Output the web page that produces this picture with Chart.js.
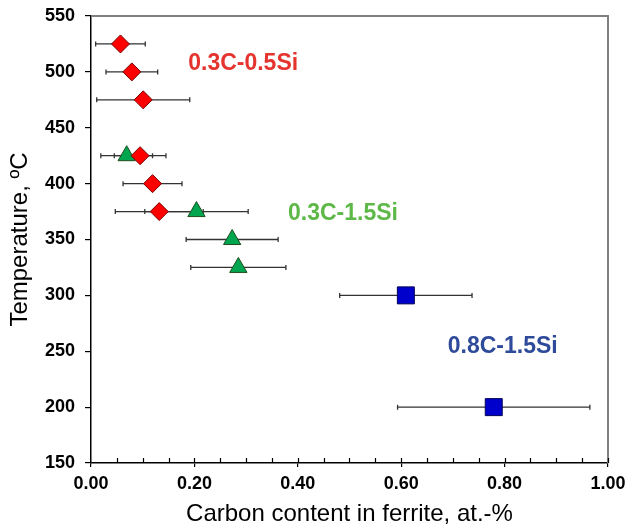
<!DOCTYPE html>
<html>
<head>
<meta charset="utf-8">
<script src="https://cdn.jsdelivr.net/npm/chart.js@4/dist/chart.umd.min.js"></script>
<style>
html,body{margin:0;padding:0;background:#fff;}
#wrap{width:627px;height:529px;position:relative;}
</style>
</head>
<body>
<div id="wrap"><canvas id="c" width="627" height="529"></canvas></div>
<script>
// ---- data ----
const temps05 = [525, 500, 475, 425, 400, 375];
const carbon05 = [0.057, 0.079, 0.101, 0.095, 0.119, 0.132];
const err05 = [0.048, 0.050, 0.090, 0.050, 0.057, 0.085];

const temps15 = [425, 375, 350, 325];
const carbon15 = [0.069, 0.204, 0.273, 0.285];
const err15 = [0.050, 0.100, 0.089, 0.092];

const temps08 = [300, 200];
const carbon08 = [0.609, 0.779];
const err08 = [0.128, 0.186];

const labelTexts = ['0.3C-0.5Si', '0.3C-1.5Si', '0.8C-1.5Si'];
const labelX = [0.188, 0.381, 0.690];
const labelY = [507, 373, 254];
const labelColors = ['#E5332D', '#5DB847', '#2E4A9A'];

const xTitle = 'Carbon content in ferrite, at.-%';
const yTitle = 'Temperature, ºC';

function pts(xs, ys, es) { return xs.map((x, i) => ({x: x, y: ys[i], e: es[i]})); }

const FONT = "'Liberation Sans', Arial, sans-serif";

const errorBars = {
  id: 'errorBars',
  beforeDatasetsDraw(chart) {
    const ctx = chart.ctx, xs = chart.scales.x, ys = chart.scales.y;
    ctx.save();
    ctx.strokeStyle = '#333333';
    ctx.lineWidth = 1.3;
    chart.data.datasets.forEach(ds => {
      ds.data.forEach(p => {
        const x1 = xs.getPixelForValue(p.x - p.e), x2 = xs.getPixelForValue(p.x + p.e);
        const y = ys.getPixelForValue(p.y);
        ctx.beginPath();
        ctx.moveTo(x1, y); ctx.lineTo(x2, y);
        ctx.moveTo(x1, y - 2.5); ctx.lineTo(x1, y + 2.5);
        ctx.moveTo(x2, y - 2.5); ctx.lineTo(x2, y + 2.5);
        ctx.stroke();
      });
    });
    ctx.restore();
  }
};

const frame = {
  id: 'frame',
  afterDraw(chart) {
    const ctx = chart.ctx, a = chart.chartArea, xs = chart.scales.x;
    ctx.save();
    ctx.strokeStyle = '#808080';
    ctx.lineWidth = 2;
    ctx.beginPath();
    ctx.moveTo(a.left, a.top); ctx.lineTo(a.right, a.top); ctx.lineTo(a.right, a.bottom);
    ctx.stroke();
    ctx.strokeStyle = '#000';
    ctx.lineWidth = 1.2;
    ctx.beginPath();
    for (let v = 0.05; v < 1.0001; v += 0.05) {
      const px = Math.round(xs.getPixelForValue(v)) + 0.5;
      ctx.moveTo(px, a.bottom); ctx.lineTo(px, a.bottom - 5);
    }
    ctx.stroke();
    ctx.font = "bold 23px " + FONT;
    ctx.textBaseline = 'middle';
    ctx.textAlign = 'left';
    labelTexts.forEach((t, i) => {
      ctx.fillStyle = labelColors[i];
      ctx.fillText(t, xs.getPixelForValue(labelX[i]), chart.scales.y.getPixelForValue(labelY[i]));
    });
    ctx.restore();
  }
};

new Chart(document.getElementById('c'), {
  type: 'scatter',
  data: {
    datasets: [
      { label: '0.3C-0.5Si', data: pts(carbon05, temps05, err05), pointStyle: 'rectRot', pointRadius: 9, pointHoverRadius: 9,
        backgroundColor: '#FF0000', borderColor: '#7A0000', borderWidth: 1 },
      { label: '0.3C-1.5Si', data: pts(carbon15, temps15, err15), pointStyle: 'triangle', pointRadius: 10, pointHoverRadius: 10,
        backgroundColor: '#00A550', borderColor: '#1F4F1F', borderWidth: 1 },
      { label: '0.8C-1.5Si', data: pts(carbon08, temps08, err08), pointStyle: 'rect', pointRadius: 12, pointHoverRadius: 12,
        backgroundColor: '#0000CC', borderColor: '#000055', borderWidth: 1 }
    ]
  },
  options: {
    responsive: false,
    animation: false,
    events: [],
    layout: { padding: { left: 0, right: 19, top: 16, bottom: 0 } },
    plugins: { legend: { display: false }, tooltip: { enabled: false } },
    scales: {
      x: {
        type: 'linear', min: 0, max: 1,
        afterFit(s) { s.height = 66; s.paddingLeft = 0; s.paddingRight = 0; },
        border: { display: true, color: '#000', width: 1.5 },
        grid: { drawOnChartArea: false, drawTicks: true, tickLength: 4, color: '#000', lineWidth: 1.2 },
        ticks: { stepSize: 0.2, padding: 6, color: '#000', font: { family: FONT, size: 18, weight: 'bold' },
                 callback: v => v.toFixed(2), maxRotation: 0 },
        title: { display: true, text: xTitle, color: '#000', font: { family: FONT, size: 24 }, padding: { top: 0, bottom: 0 } }
      },
      y: {
        type: 'linear', min: 150, max: 550,
        afterFit(s) { s.width = 91; s.paddingTop = 0; s.paddingBottom = 0; },
        border: { display: true, color: '#000', width: 1.5 },
        grid: { drawOnChartArea: false, drawTicks: true, tickLength: 6, color: '#000', lineWidth: 1.2 },
        ticks: { stepSize: 50, padding: 10, color: '#000', font: { family: FONT, size: 18, weight: 'bold' } },
        title: { display: true, text: yTitle, color: '#000', font: { family: FONT, size: 24 }, padding: { top: 6, bottom: 0 } }
      }
    }
  },
  plugins: [errorBars, frame]
});
</script>
</body>
</html>
